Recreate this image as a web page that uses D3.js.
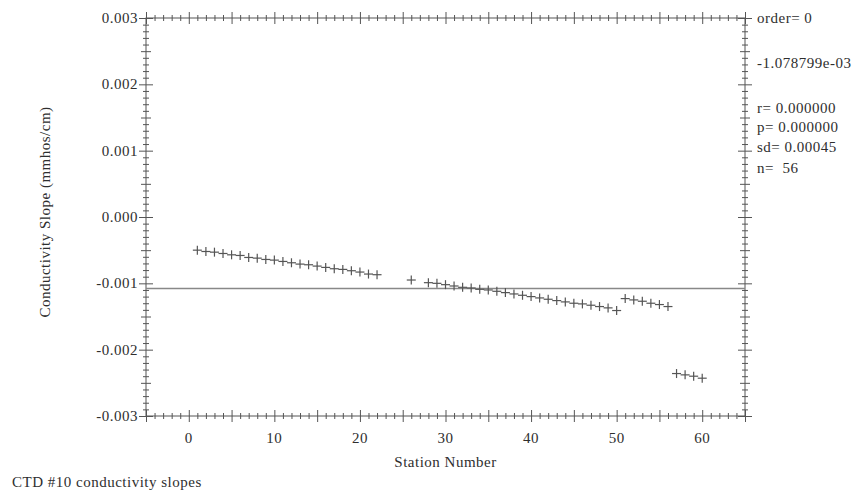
<!DOCTYPE html>
<html>
<head>
<meta charset="utf-8">
<script src="https://cdn.jsdelivr.net/npm/d3@7/dist/d3.min.js"></script>
<style>
  html, body { margin: 0; padding: 0; background: #ffffff; }
  svg { display: block; }
  text { font-family: "Liberation Serif", "DejaVu Serif", serif; fill: #2e2e2e; letter-spacing: 0.5px; white-space: pre; }
</style>
</head>
<body>
<svg id="chart" width="857" height="491"></svg>
<script>
// ---- data ----
const stations = [1,2,3,4,5,6,7,8,9,10,11,12,13,14,15,16,17,18,19,20,21,22,
  26,28,29,30,31,32,33,34,35,36,37,38,39,40,41,42,43,44,45,46,47,48,49,50,
  51,52,53,54,55,56,57,58,59,60];
const slopes = [-0.00050,-0.00052,-0.00053,-0.00055,-0.00057,-0.00058,-0.00061,-0.00062,-0.00064,-0.00065,-0.00067,
  -0.00069,-0.00071,-0.00072,-0.00074,-0.00076,-0.00078,-0.00079,-0.00081,-0.00083,-0.00086,-0.00087,
  -0.00095,-0.00099,-0.00100,-0.00102,-0.00104,-0.00106,-0.00107,-0.00109,-0.00110,-0.00112,-0.00114,
  -0.00116,-0.00118,-0.00120,-0.00122,-0.00124,-0.00126,-0.00128,-0.00130,-0.00131,-0.00133,-0.00135,
  -0.00137,-0.00141,
  -0.00123,-0.00125,-0.00127,-0.00130,-0.00132,-0.00135,
  -0.00236,-0.00238,-0.00240,-0.00243];
const meanLine = -1.078799e-03;
const xTickValues = [0,10,20,30,40,50,60];
const xTickLabels = ["0","10","20","30","40","50","60"];
const yTickValues = [0.003,0.002,0.001,0,-0.001,-0.002,-0.003];
const yTickLabels = ["0.003","0.002","0.001","0.000","-0.001","-0.002","-0.003"];
const statsLines = ["order= 0","-1.078799e-03","r= 0.000000","p= 0.000000","sd= 0.00045","n=  56"];
const xTitle = "Station Number";
const yTitle = "Conductivity Slope (mmhos/cm)";
const caption = "CTD #10 conductivity slopes";

// ---- layout ----
const L = 146, R = 745, T = 18, B = 416;
const svg = d3.select("#chart");
const x = d3.scaleLinear().domain([-5, 65]).range([L, R]);
const y = d3.scaleLinear().domain([-0.003, 0.003]).range([B, T]);
const axisColor = "#555";

// frame
svg.append("rect").attr("x", L).attr("y", T).attr("width", R - L).attr("height", B - T)
  .attr("fill", "none").attr("stroke", axisColor).attr("stroke-width", 1);

// x ticks (top & bottom), crossing
const xt = d3.range(-5, 66, 1);
[B, T].forEach(yy => {
  svg.append("g").selectAll("line").data(xt).join("line")
    .attr("x1", d => x(d) + 0.5).attr("x2", d => x(d) + 0.5)
    .attr("y1", d => yy - (d % 5 === 0 ? 6 : 3))
    .attr("y2", d => yy + (d % 5 === 0 ? 6 : 3))
    .attr("stroke", axisColor).attr("stroke-width", 1);
});
// y ticks (left & right)
const yt = d3.range(-30, 31, 1).map(i => i * 0.0001);
[L, R].forEach(xx => {
  svg.append("g").selectAll("line").data(yt).join("line")
    .attr("y1", d => y(d) + 0.5).attr("y2", d => y(d) + 0.5)
    .attr("x1", (d, i) => xx - ((i % 10 === 0) ? 7 : (i % 5 === 0 ? 5 : 3)))
    .attr("x2", (d, i) => xx + ((i % 10 === 0) ? 7 : (i % 5 === 0 ? 5 : 3)))
    .attr("stroke", axisColor).attr("stroke-width", 1);
});

// tick labels
svg.append("g").selectAll("text").data(xTickValues).join("text")
  .attr("x", d => x(d)).attr("y", 443).attr("text-anchor", "middle")
  .attr("font-size", 15).text((d, i) => xTickLabels[i]);
svg.append("g").selectAll("text").data(yTickValues).join("text")
  .attr("x", 138).attr("y", d => y(d) + 5).attr("text-anchor", "end")
  .attr("font-size", 15).text((d, i) => yTickLabels[i]);

// titles
svg.append("text").attr("x", (L + R) / 2).attr("y", 467).attr("text-anchor", "middle")
  .attr("font-size", 15).text(xTitle);
svg.append("text").attr("transform", `translate(50,${(T + B) / 2 - 5}) rotate(-90)`)
  .attr("text-anchor", "middle").attr("font-size", 15).text(yTitle);
svg.append("text").attr("x", 12).attr("y", 487).attr("font-size", 15).text(caption);

// stats text
const statsY = [18, 63, 108, 127, 147, 168];
svg.append("g").selectAll("text").data(statsLines).join("text")
  .attr("x", 757).attr("y", (d, i) => statsY[i] + 5).attr("font-size", 15).text(d => d);

// mean line
svg.append("line").attr("x1", L).attr("x2", R).attr("y1", y(meanLine)).attr("y2", y(meanLine))
  .attr("stroke", "#888").attr("stroke-width", 1.6);

// points as plus markers
const pts = svg.append("g").selectAll("g").data(stations.map((s, i) => [s, slopes[i]])).join("g")
  .attr("transform", d => `translate(${x(d[0])},${y(d[1])})`);
pts.append("line").attr("x1", -4.5).attr("x2", 4.5).attr("y1", 0).attr("y2", 0)
  .attr("stroke", "#555").attr("stroke-width", 1.2);
pts.append("line").attr("y1", -4.5).attr("y2", 4.5).attr("x1", 0).attr("x2", 0)
  .attr("stroke", "#555").attr("stroke-width", 1.2);
</script>
</body>
</html>
